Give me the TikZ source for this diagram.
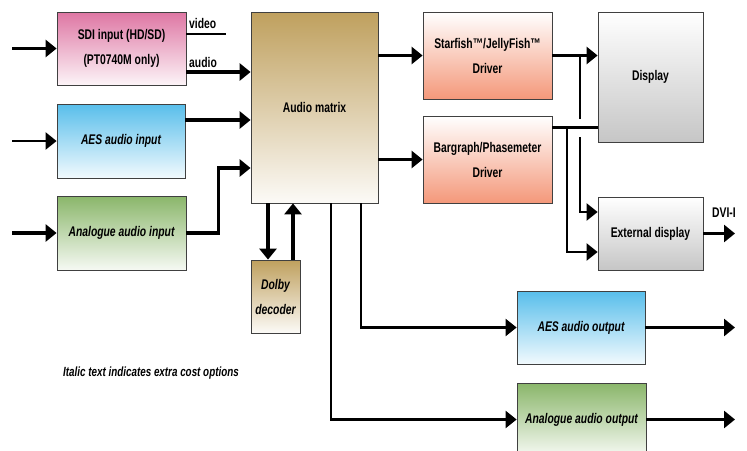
\documentclass[tikz,border=0pt]{standalone}
\usepackage{fontspec}
\setmainfont{Liberation Sans}[FakeStretch=0.74]
\usetikzlibrary{arrows.meta}

\definecolor{sdipink}{RGB}{222,118,163}
\definecolor{aesblue}{RGB}{88,190,235}
\definecolor{anagreen}{RGB}{138,182,106}
\definecolor{mattan}{RGB}{191,160,94}
\definecolor{drvsalmon}{RGB}{244,152,122}
\definecolor{dispgrey}{RGB}{198,198,198}

\tikzset{every node/.style={font=\fontsize{14}{25}\selectfont\bfseries}}

\begin{document}
\begin{tikzpicture}[x=1pt,y=-1pt,
    box/.style={draw=black!75,line width=0.8pt,align=center,inner sep=2pt},
    pinkbox/.style={box,top color=sdipink,bottom color=sdipink!8},
    bluebox/.style={box,top color=aesblue,bottom color=aesblue!8,font=\fontsize{14}{25}\selectfont\bfseries\itshape},
    greenbox/.style={box,top color=anagreen,bottom color=anagreen!8,font=\fontsize{14}{25}\selectfont\bfseries\itshape},
    tanbox/.style={box,top color=mattan,bottom color=mattan!5},
    salmonbox/.style={box,top color=white,bottom color=drvsalmon},
    greybox/.style={box,top color=white,bottom color=dispgrey},
    arr/.style={line width=3.5pt,-{Triangle[length=11pt,width=17pt]}},
    thinarr/.style={line width=2.2pt,-{Triangle[length=11pt,width=17pt]}},
    wire/.style={line width=3pt},
    thinwire/.style={line width=2pt}]
    \useasboundingbox (0,0) rectangle (747,450);
    \clip (0,0) rectangle (747,450);

    %inputs
    \node (sdi) at (121.5,48.5) [pinkbox,minimum width=129pt,minimum height=73pt]{SDI input (HD/SD)\\(PT0740M only)};
    \node (aesin) at (121,141) [bluebox,minimum width=128pt,minimum height=74pt]{AES audio input};
    \node (anain) at (121.5,233) [greenbox,minimum width=129pt,minimum height=74pt]{Analogue audio input};
    %matrix and decoder
    \node (matrix) at (314.5,107.5) [tanbox,minimum width=127pt,minimum height=191pt]{Audio matrix};
    \node (dolby) at (275.5,296.5) [tanbox,minimum width=49pt,minimum height=73pt,font=\fontsize{14}{25}\selectfont\bfseries\itshape]{Dolby\\decoder};
    %drivers and displays
    \node (star) at (487.5,55.5) [salmonbox,minimum width=129pt,minimum height=87pt]{Starfish™/JellyFish™\\Driver};
    \node (bar) at (487.5,159.5) [salmonbox,minimum width=129pt,minimum height=87pt]{Bargraph/Phasemeter\\Driver};
    \node (disp) at (650.5,77) [greybox,minimum width=105pt,minimum height=130pt]{Display};
    \node (ext) at (650.5,233.5) [greybox,minimum width=105pt,minimum height=73pt]{External display};
    %outputs
    \node (aesout) at (581,327.5) [bluebox,minimum width=128pt,minimum height=73pt]{AES audio output};
    \node (anaout) at (581.5,419.5) [greenbox,minimum width=129pt,minimum height=73pt]{Analogue audio output};

    \node (note) at (151,373) [font=\fontsize{13.3}{15}\selectfont\bfseries\itshape]{Italic text indicates extra cost options};

    %input arrows
    \coordinate (sdiin) at (12,48.5);
    \coordinate (aesinin) at (12,141);
    \coordinate (anainin) at (12,233);
    \draw [arr] (sdiin) -- (sdi.west);
    \draw [thinarr] (aesinin) -- (aesin.west);
    \draw [arr] (anainin) -- (anain.west);

    %into the matrix
    \coordinate (vidend) at (226,34);
    \coordinate (sdiaud) at ([yshift=-23.5pt]sdi.east);
    \coordinate (aesaud) at ([yshift=21pt]aesin.east);
    \draw [thinwire] (sdi.east |- vidend) -- (vidend);
    \node (video) at (188,23) [anchor=west,inner sep=1pt]{video};
    \draw [arr] (sdiaud) -- (sdiaud -| matrix.west);
    \node (audio) at (188,62) [anchor=west,inner sep=1pt]{audio};
    \draw [arr] (aesaud) -- (aesaud -| matrix.west);
    \draw [arr] (anain.east) -- ++(32,0) |- ([yshift=-60.5pt]matrix.west);

    %matrix to drivers
    \draw [arr] (matrix.east |- star.west) -- (star.west);
    \draw [arr] (matrix.east |- bar.west) -- (bar.west);

    %drivers to displays
    \coordinate (j1) at (580,55.5);
    \coordinate (gap) at (580,137);
    \coordinate (j2) at (567,127);
    \draw [arr] (star.east) -- (star.east -| disp.west);
    \draw [wire] (bar.east |- j2) -- (j2 -| disp.west);
    \draw [thinwire] (j1) -- ++(0,63);
    \draw [thinarr] (gap) |- ([yshift=21.5pt]ext.west);
    \draw [thinarr] (j2) |- ([yshift=-18.5pt]ext.west);
    \coordinate (dvi) at (735,233.5);
    \draw [arr] (ext.east) -- (dvi);
    \node (dvilabel) at (737,213) [anchor=east,inner sep=1pt]{DVI-I};

    %decoder loop
    \coordinate (dn) at ([xshift=-7.5pt]dolby.north);
    \coordinate (up) at ([xshift=17.5pt]dolby.north);
    \draw [arr] (dn |- matrix.south) -- (dn);
    \draw [arr] (up) -- (up |- matrix.south);

    %matrix to outputs
    \draw [thinarr] ([xshift=46.5pt]matrix.south) |- (aesout.west);
    \draw [thinarr] ([xshift=16.5pt]matrix.south) |- (anaout.west);
    \coordinate (aesend) at (735,327.5);
    \coordinate (anaend) at (735,419.5);
    \draw [arr] (aesout.east) -- (aesend);
    \draw [arr] (anaout.east) -- (anaend);
\end{tikzpicture}
\end{document}
